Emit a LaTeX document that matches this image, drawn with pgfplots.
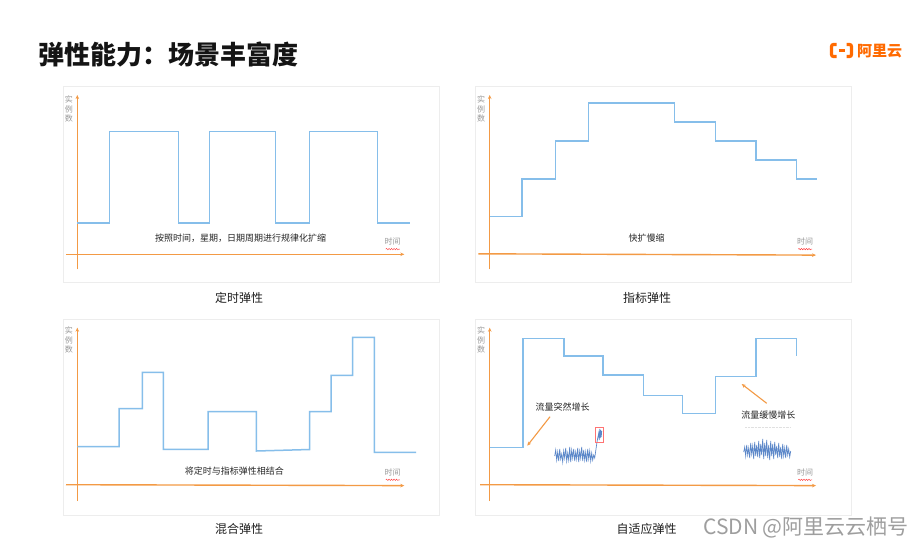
\documentclass[border=0pt]{standalone}
\usepackage{fontspec}
\setmainfont{Noto Sans CJK SC}
\usepackage{pgfplots}
\pgfplotsset{compat=1.18}
\usetikzlibrary{arrows.meta,decorations.pathmorphing}
\definecolor{lineblue}{HTML}{86BEEA}
\definecolor{axorange}{HTML}{F39A45}
\definecolor{logoorange}{HTML}{FF6A00}
\definecolor{noiseblue}{HTML}{5B87C9}
\pgfplotsset{
  panel/.style={hide axis, clip=false, scale only axis, width=352pt, height=176pt,
    xmin=-12, xmax=340, ymin=-16, ymax=160, anchor=south west},
  orangeax/.style={axorange, line width=1.4pt, -{Stealth[length=4pt,width=3.5pt]}},
  blueline/.style={lineblue, line width=1.5pt},
}
\newcommand{\annot}{\fontsize{9}{9}\selectfont}
\newcommand{\ylab}{\node[font=\fontsize{8}{9.5}\selectfont, text=black!40, align=center] at (axis cs:-8.5,145) {实\\例\\数};}
\newcommand{\timelab}{\node[font=\fontsize{8}{8}\selectfont, text=black!40] at (axis cs:315.4,12.5) {时间};
  \draw[red!80, decorate, decoration={snake, amplitude=0.7pt, segment length=2.5pt}] (axis cs:308.5,5.2) -- (axis cs:322.5,5.2);}
\begin{document}
\begin{tikzpicture}
\useasboundingbox (0,0) rectangle (909pt,-546pt);
\fill[white] (0,0) rectangle (909pt,-546pt);
% cards
\foreach \x/\y in {63/86,475/86,63/319,475/319}{
  \draw[black!7, fill=white, line width=0.6pt] (\x pt,-\y pt) rectangle ++(376pt,-196pt);
}
% title
\node[anchor=west, font=\fontsize{26}{26}\selectfont\bfseries, text=black!92] at (35pt,-55pt) {弹性能力：场景丰富度};
% logo
\draw[logoorange, line width=3.2pt, rounded corners=2pt] (836.5pt,-44.5pt) -- (831.5pt,-44.5pt) -- (831.5pt,-56.5pt) -- (836.5pt,-56.5pt);
\draw[logoorange, line width=3.2pt, rounded corners=2pt] (846.5pt,-44.5pt) -- (851.5pt,-44.5pt) -- (851.5pt,-56.5pt) -- (846.5pt,-56.5pt);
\draw[logoorange, line width=2.2pt] (838.5pt,-50.5pt) -- (844.5pt,-50.5pt);
\node[anchor=west, text=logoorange, font=\fontsize{15}{15}\selectfont\bfseries, inner sep=0pt] at (857pt,-51pt) {阿里云};

% ---------- panel 1
\begin{axis}[panel, at={(65.3pt,-270.3pt)}]
\addplot[orangeax] coordinates {(-11.3,0) (327,0)};
\addplot[orangeax] coordinates {(0,-15) (0,159.3)};
\addplot[blueline] coordinates {(0,31.3) (32.4,31.3) (32.4,123) (101,123) (101,31.3) (132.4,31.3) (132.4,123) (198,123) (198,31.3) (232.4,31.3) (232.4,123) (300.4,123) (300.4,31.3) (332.7,31.3)};
\ylab
\timelab
\node[font=\annot, text=black!85] at (axis cs:163.4,16.3) {按照时间，星期，日期周期进行规律化扩缩};
\end{axis}

% ---------- panel 2
\begin{axis}[panel, at={(477.7pt,-270.3pt)}]
\addplot[orangeax] coordinates {(-11.4,0.5) (326.3,-0.8)};
\addplot[orangeax] coordinates {(0,-15) (0,159.3)};
\addplot[blueline] coordinates {(0,37.6) (32.3,37.6) (32.3,75.3) (65.6,75.3) (65.6,113.3) (98.6,113.3) (98.6,151.3) (185,151.3) (185,132.3) (225.6,132.3) (225.6,113.3) (266.3,113.3) (266.3,94.3) (307,94.3) (307,75.3) (327,75.3)};
\ylab
\timelab
\node[font=\annot, text=black!85] at (axis cs:157,16) {快扩慢缩};
\end{axis}

% ---------- panel 3
\begin{axis}[panel, at={(65.3pt,-501pt)}]
\addplot[orangeax] coordinates {(-11.3,0.3) (327,-0.6)};
\addplot[orangeax] coordinates {(0,-16) (0,157.3)};
\addplot[blueline] coordinates {(0,38.3) (41.7,38.3) (41.7,76.3) (65,76.3) (65,112.7) (86,112.7) (86,35.7) (130.7,35.7) (130.7,73.3) (179,73.3) (179,34) (232.4,35.5) (232.4,73.3) (253.7,73.3) (253.7,109.7) (275.4,109.7) (275.4,147.7) (297,147.7) (297,32.7) (338.7,32.7)};
\ylab
\timelab
\node[font=\annot, text=black!85] at (axis cs:157,14) {将定时与指标弹性相结合};
\end{axis}

% ---------- panel 4
\begin{axis}[panel, at={(477.7pt,-501pt)}]
\addplot[orangeax] coordinates {(-9.7,0.3) (326.3,-0.6)};
\addplot[orangeax] coordinates {(0,-16) (0,157.3)};
\addplot[blueline] coordinates {(0,37.3) (33.3,37.3) (33.3,146.3) (74.3,146.3) (74.3,129) (113.3,129) (113.3,110) (153.6,110) (153.6,89.7) (193,89.7) (193,71.7) (225.6,71.7) (225.6,108.3) (266.3,108.3) (266.3,146.3) (307,146.3) (307,129)};
% sudden traffic
\addplot[noiseblue, line width=0.7pt] coordinates {(65,29) (66,35) (67,25) (68,33) (69,24) (70,36) (71,26) (72,31) (73,23) (74,34) (75,27) (76,37) (77,24) (78,32) (79,25) (80,38) (81,23) (82,35) (83,27) (84,36) (85,24) (86,33) (87,26) (88,37) (89,23) (90,34) (91,27) (92,38) (93,24) (94,35) (95,25) (96,33) (97,23) (98,36) (99,26) (100,34) (101,24) (102,32) (103,25) (104,30) (105,27) (106,34) (107,41) (108,47) (109,52) (109.5,45) (110,56) (110.5,47) (111,55) (111.5,48) (112,54)};
\draw[red!55, line width=0.5pt] (axis cs:106,42.3) rectangle (axis cs:113.6,57.7);
% slow traffic
\addplot[black!12, densely dotted, line width=0.4pt] coordinates {(255.3,57.7) (300.3,57.7)};
\addplot[noiseblue, line width=0.7pt] coordinates {(254,33) (255,38) (256,29) (257,40) (258,30) (259,37) (260,27) (261,42) (262,31) (263,39) (264,26) (265,43) (266,29) (267,40) (268,28) (269,44) (270,27) (271,41) (272,30) (273,46) (274,26) (275,42) (276,29) (277,45) (278,27) (279,40) (280,25) (281,44) (282,29) (283,41) (284,26) (285,43) (286,30) (287,39) (288,27) (289,42) (290,28) (291,38) (292,26) (293,41) (294,29) (295,37) (296,27) (297,40) (298,30) (299,36) (300,28) (301,34)};
\addplot[axorange, line width=1.1pt, -{Stealth[length=4pt,width=3.5pt]}] coordinates {(60.3,68.3) (37.6,39.3)};
\addplot[axorange, line width=1.1pt, -{Stealth[length=4pt,width=3.5pt]}] coordinates {(277,81.7) (252,101)};
\node[font=\annot, text=black!85] at (axis cs:73,78.3) {流量突然增长};
\node[font=\annot, text=black!85] at (axis cs:278.6,70) {流量缓慢增长};
\ylab
\timelab
\end{axis}

% captions
\node[font=\fontsize{12}{12}\selectfont, text=black!88] at (239pt,-297.7pt) {定时弹性};
\node[font=\fontsize{12}{12}\selectfont, text=black!88] at (647pt,-297.7pt) {指标弹性};
\node[font=\fontsize{12}{12}\selectfont, text=black!88] at (239pt,-529.3pt) {混合弹性};
\node[font=\fontsize{12}{12}\selectfont, text=black!88] at (646.7pt,-529.3pt) {自适应弹性};
% watermark
\node[anchor=west, font=\fontsize{21}{21}\selectfont, text=black!38, inner sep=0pt] at (703pt,-527.7pt) {CSDN @阿里云云栖号};
\end{tikzpicture}
\end{document}
